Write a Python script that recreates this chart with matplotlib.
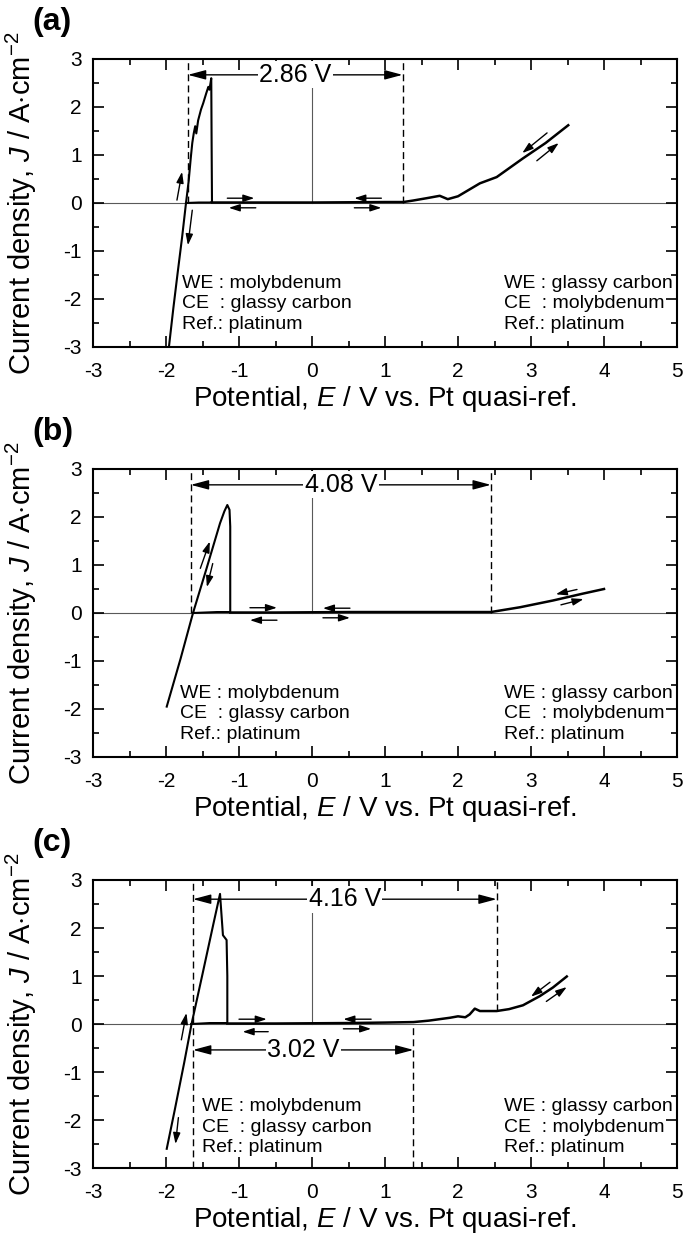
import matplotlib
matplotlib.use("Agg")
import matplotlib.pyplot as plt
from matplotlib.ticker import MultipleLocator

plt.rcParams['font.family'] = ['Liberation Sans', 'DejaVu Sans']
plt.rcParams['mathtext.fontset'] = 'custom'
plt.rcParams['mathtext.rm'] = 'Liberation Sans'
plt.rcParams['mathtext.it'] = 'Liberation Sans:italic'
plt.rcParams['axes.unicode_minus'] = False

# ---------------- data ----------------
panel_labels = ["(a)", "(b)", "(c)"]
x_ticks = [-3, -2, -1, 0, 1, 2, 3, 4, 5]
y_ticks = [-3, -2, -1, 0, 1, 2, 3]

# Panel (a)
a_mo_E = [-1.96, -1.90, -1.84, -1.78, -1.726, -1.69, -1.66, -1.64, -1.62, -1.60, -1.585, -1.56,
          -1.52, -1.49, -1.45, -1.42, -1.405, -1.39, -1.38, -1.375, -1.37, -1.40, -1.55, -1.726]
a_mo_J = [-3.0, -2.2, -1.45, -0.72, 0.0, 0.45, 0.95, 1.25, 1.45, 1.60, 1.45, 1.72,
          1.95, 2.08, 2.28, 2.42, 2.36, 2.50, 2.60, 1.20, 0.02, 0.01, 0.01, 0.0]
a_gc_E = [-1.37, -1.0, -0.5, 0.0, 0.5, 1.0, 1.25, 1.38, 1.57, 1.75, 1.86, 2.0, 2.3, 2.53, 2.89, 3.2, 3.51]
a_gc_J = [0.01, 0.01, 0.01, 0.01, 0.015, 0.02, 0.02, 0.05, 0.10, 0.15, 0.08, 0.14, 0.41, 0.54, 0.93, 1.25, 1.62]

# Panel (b)
b_mo_E = [-1.99, -1.80, -1.63, -1.45, -1.26, -1.20, -1.16, -1.13, -1.12, -1.12, -1.30, -1.63]
b_mo_J = [-1.95, -0.95, 0.0, 0.90, 1.87, 2.12, 2.25, 2.15, 1.80, 0.02, 0.02, 0.0]
b_gc_E = [-1.12, -0.5, 0.0, 0.5, 1.0, 1.5, 2.0, 2.45, 2.85, 3.3, 3.7, 4.0]
b_gc_J = [0.01, 0.01, 0.015, 0.02, 0.02, 0.02, 0.02, 0.02, 0.12, 0.26, 0.40, 0.50]

# Panel (c)
c_mo_E = [-1.99, -1.88, -1.75, -1.65, -1.50, -1.35, -1.26, -1.22, -1.17, -1.16, -1.16, -1.40, -1.65]
c_mo_J = [-2.60, -1.79, -0.80, 0.0, 1.04, 2.09, 2.71, 1.85, 1.75, 1.0, 0.02, 0.02, 0.0]
c_gc_E = [-1.16, -0.5, 0.0, 0.5, 1.0, 1.39, 1.6, 1.89, 2.0, 2.1, 2.16, 2.23, 2.3, 2.53, 2.7, 2.89, 3.12, 3.3, 3.49]
c_gc_J = [0.01, 0.01, 0.015, 0.02, 0.03, 0.04, 0.07, 0.13, 0.16, 0.14, 0.20, 0.32, 0.27, 0.27, 0.31, 0.39, 0.58, 0.76, 0.99]

# scan-direction arrows (start E, start J, end E, end J)
a_arrows = [(-1.85, 0.06, -1.78, 0.65), (-1.64, -0.15, -1.70, -0.88),
            (-1.16, 0.10, -0.79, 0.10), (-0.77, -0.10, -1.14, -0.10),
            (0.95, 0.10, 0.58, 0.10), (0.58, -0.10, 0.95, -0.10),
            (3.22, 1.46, 2.88, 1.04), (3.08, 0.88, 3.38, 1.25)]
b_arrows = [(-1.53, 0.93, -1.40, 1.49), (-1.36, 1.03, -1.44, 0.54),
            (-0.85, 0.11, -0.48, 0.11), (-0.48, -0.15, -0.85, -0.15),
            (0.52, 0.10, 0.15, 0.10), (0.15, -0.10, 0.52, -0.10),
            (3.63, 0.49, 3.34, 0.39), (3.41, 0.17, 3.72, 0.29)]
c_arrows = [(-1.79, -0.33, -1.72, 0.23), (-1.83, -1.95, -1.87, -2.50),
            (-1.00, 0.10, -0.62, 0.10), (-0.60, -0.16, -0.95, -0.16),
            (0.81, 0.10, 0.43, 0.10), (0.43, -0.10, 0.81, -0.10),
            (3.26, 0.87, 3.00, 0.57), (3.21, 0.47, 3.49, 0.77)]

# potential windows (left E, right E, J level, label)
a_windows = [(-1.70, 1.24, 2.67, "2.86 V")]
b_windows = [(-1.66, 2.45, 2.67, "4.08 V")]
c_windows = [(-1.63, 2.53, 2.60, "4.16 V"), (-1.63, 1.39, -0.54, "3.02 V")]

# dashed guide lines (E, J from, J to)
a_guides = [(-1.70, 0.0, 3.0), (1.24, 0.0, 3.0)]
b_guides = [(-1.66, 0.0, 3.0), (2.45, 0.0, 3.0)]
c_guides = [(-1.63, -3.0, 3.0), (2.53, 0.27, 3.0), (1.39, -3.0, 0.0)]

left_text = ["WE : molybdenum", "CE  : glassy carbon", "Ref.: platinum"]
right_text = ["WE : glassy carbon", "CE  : molybdenum", "Ref.: platinum"]
a_text_pos = [(-1.78, -1.67), (2.63, -1.67)]
b_text_pos = [(-1.81, -1.67), (2.63, -1.67)]
c_text_pos = [(-1.51, -1.72), (2.63, -1.72)]

xlabel = r"Potential, $\mathit{E}$ / V vs. Pt quasi-ref."
ylabel = r"Current density, $\mathit{J}$ / A$\cdot$cm$^{-2}$"

panels = [
    dict(mo=(a_mo_E, a_mo_J), gc=(a_gc_E, a_gc_J), arrows=a_arrows, windows=a_windows,
         guides=a_guides, tpos=a_text_pos),
    dict(mo=(b_mo_E, b_mo_J), gc=(b_gc_E, b_gc_J), arrows=b_arrows, windows=b_windows,
         guides=b_guides, tpos=b_text_pos),
    dict(mo=(c_mo_E, c_mo_J), gc=(c_gc_E, c_gc_J), arrows=c_arrows, windows=c_windows,
         guides=c_guides, tpos=c_text_pos),
]

# ---------------- layout ----------------
W, H = 685, 1241
fig = plt.figure(figsize=(W / 100, H / 100), dpi=100)
tops = [59, 469, 880]
ax_h = 288
ax_left, ax_w = 93, 584

for i, p in enumerate(panels):
    top = tops[i]
    ax = fig.add_axes([ax_left / W, 1 - (top + ax_h) / H, ax_w / W, ax_h / H])
    ax.set_xlim(x_ticks[0], x_ticks[-1])
    ax.set_ylim(y_ticks[0], y_ticks[-1])
    ax.set_xticks(x_ticks)
    ax.set_yticks(y_ticks)
    ax.xaxis.set_minor_locator(MultipleLocator(0.5))
    ax.yaxis.set_minor_locator(MultipleLocator(0.5))
    ax.tick_params(which='both', direction='in', top=True, right=True, labelsize=15, width=1.2)
    ax.tick_params(which='major', length=8)
    ax.tick_params(which='minor', length=4)
    ax.tick_params(axis='x', pad=11)
    ax.tick_params(axis='y', pad=8)
    for s in ax.spines.values():
        s.set_linewidth(1.5)

    ax.axhline(0, color='0.35', lw=0.8, zorder=1)
    ax.plot([0, 0], [0, 3], color='0.35', lw=0.8, zorder=1)

    for (e, j0, j1) in p['guides']:
        ax.plot([e, e], [j0, j1], color='k', lw=1.0, ls=(0, (5, 3)), zorder=2)

    ax.plot(*p['mo'], color='k', lw=1.5, zorder=3, clip_on=True)
    ax.plot(*p['gc'], color='k', lw=1.8, zorder=3)

    for (x0, y0, x1, y1) in p['arrows']:
        ax.annotate('', xy=(x1, y1), xytext=(x0, y0),
                    arrowprops=dict(arrowstyle='-|>,head_length=0.55,head_width=0.18',
                                    mutation_scale=12, lw=1.0, color='k',
                                    shrinkA=0, shrinkB=0), zorder=4)

    for (e0, e1, jl, lab) in p['windows']:
        ax.annotate('', xy=(e1, jl), xytext=(e0, jl),
                    arrowprops=dict(arrowstyle='<|-|>,head_length=0.6,head_width=0.16',
                                    mutation_scale=18, lw=1.0, color='k',
                                    shrinkA=0, shrinkB=0), zorder=4)
        ax.text((e0 + e1) / 2, jl, lab, ha='center', va='center', fontsize=18,
                bbox=dict(fc='white', ec='none', pad=1.0), zorder=5)

    (lx, ly), (rx, ry) = p['tpos']
    for k, line in enumerate(left_text):
        ax.text(lx, ly - 0.43 * k, line, ha='left', va='center', fontsize=14, zorder=5)
    for k, line in enumerate(right_text):
        ax.text(rx, ry - 0.43 * k, line, ha='left', va='center', fontsize=14, zorder=5)

    ax.set_xlabel(xlabel, fontsize=20, labelpad=2)
    ax.set_ylabel(ylabel, fontsize=21)
    ax.yaxis.set_label_coords((39 - ax_left) / ax_w, 0.5)

    fig.text(32 / W, 1 - (top - 37) / H, panel_labels[i], fontsize=23, fontweight='bold',
             ha='left', va='center')

fig.savefig("out.png", dpi=100)
